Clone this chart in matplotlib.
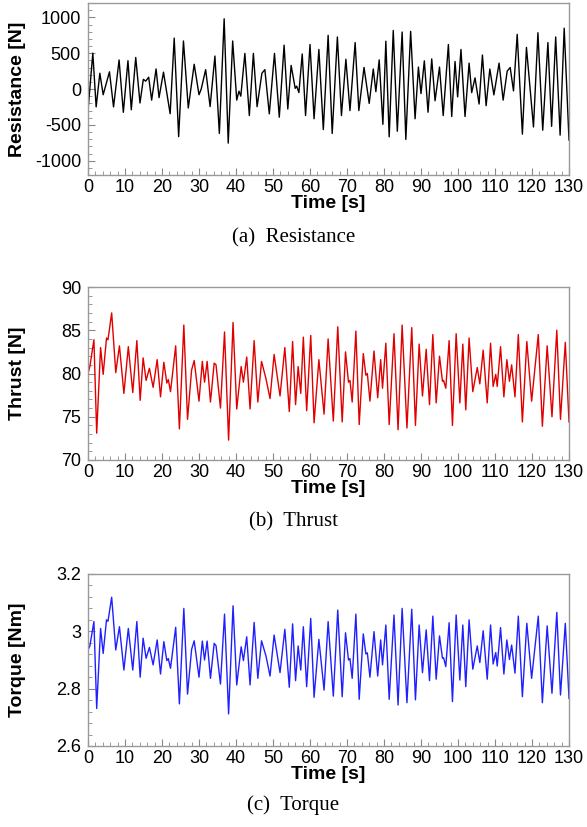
import matplotlib
matplotlib.use("Agg")
import matplotlib.pyplot as plt
from matplotlib.ticker import MultipleLocator, FuncFormatter

plt.rcParams['font.family'] = ['Liberation Sans', 'DejaVu Sans']
plt.rcParams['axes.unicode_minus'] = False

# Resistance [N] - peaks/troughs
time_res = [0.0, 1.3, 2.2, 3.2, 4.1, 5.8, 6.9, 8.4, 9.55, 10.8, 11.7, 12.9, 14.05, 14.95, 15.6,
            16.4, 17.2, 18.4, 19.2, 20.4, 22.2, 23.3, 24.5, 25.8, 27.1, 28.7, 30.0, 30.6, 31.8,
            33.0, 34.3, 35.5, 36.8, 37.9, 39.1, 40.2, 40.8, 41.3, 42.4, 43.6, 44.7, 45.7, 47.0,
            47.8, 49.0, 50.4, 51.7, 53.0, 54.0, 54.9, 56.0, 56.4, 57.0, 57.9, 58.8, 60.0, 61.1,
            62.4, 63.6, 64.9, 66.0, 67.4, 68.5, 69.7, 70.8, 72.2, 73.2, 74.6, 76.0, 77.1, 77.8,
            78.7, 79.7, 80.5, 81.4, 82.5, 83.6, 84.9, 85.9, 87.2, 88.4, 89.3, 90.0, 90.9, 91.9,
            92.9, 93.8, 95.0, 96.0, 97.4, 98.3, 99.2, 99.9, 100.8, 101.9, 103.0, 103.7, 104.6,
            105.7, 106.6, 107.6, 108.6, 109.7, 111.1, 112.2, 113.3, 114.1, 115.0, 116.0, 117.4,
            118.5, 120.4, 121.6, 122.9, 124.3, 125.3, 126.4, 127.6, 128.7, 130.0]
resistance = [-300, 500, -250, 220, -80, 240, -250, 405, -325, 395, -290, 440, -195, 135, 110,
              165, -155, 280, -120, 235, -345, 710, -665, 670, -265, 345, -80, 0, 270,
              -245, 460, -620, 980, -755, 670, -155, -30, -100, 497, -370, 497, -247, 220,
              270, -347, 497, -393, 612, -279, 329, 9, 40, -50, 489, -370, 621, -415,
              552, -566, 749, -621, 726, -370, 415, -301, 648, -301, 301, -201, 279, -37,
              406, -493, 667, -667, 817, -589, 795, -703, 804, -415, 306, -64, 393, -324,
              420, -164, 306, -370, 621, -384, 384, -110, 552, -384, 361, -50, 155,
              -210, 475, -233, 279, -82, 361, -155, 250, 300, -27, 763, -630,
              580, -530, 785, -575, 648, -521, 726, -644, 849, -712]

# Thrust [N] and Torque [Nm] share the same time stamps
time_tq = [0.0, 0.5, 1.6, 2.35, 3.4, 4.1, 5.0, 5.4, 6.4, 7.5, 8.5, 9.7, 10.9, 12.1, 13.2, 14.1,
           14.9, 15.7, 16.6, 17.6, 18.7, 19.6, 20.5, 21.3, 21.7, 22.3, 23.7, 24.7, 25.9, 26.9,
           28.0, 28.7, 30.0, 30.9, 31.5, 32.2, 33.1, 34.1, 34.6, 35.8, 36.9, 38.0, 39.2, 40.2,
           41.4, 42.0, 42.9, 43.8, 44.9, 45.9, 46.9, 48.1, 49.2, 50.3, 51.9, 53.2, 54.4, 55.3,
           56.1, 56.8, 57.5, 58.2, 59.1, 60.2, 61.1, 62.4, 63.8, 64.9, 66.3, 67.5, 68.7, 69.6,
           70.4, 70.8, 71.4, 72.4, 73.3, 74.4, 75.1, 75.5, 76.2, 77.3, 78.3, 79.1, 79.6, 80.5,
           81.4, 82.7, 83.8, 84.9, 86.2, 87.5, 88.5, 89.5, 90.4, 91.4, 92.3, 93.2, 94.1, 95.0,
           95.8, 96.1, 96.7, 97.6, 98.5, 99.5, 100.5, 101.3, 102.1, 103.0, 104.0, 105.2, 105.9,
           106.8, 107.9, 108.8, 109.5, 110.2, 110.6, 111.5, 112.4, 113.2, 113.9, 114.5, 115.4,
           116.3, 117.4, 118.6, 119.9, 121.7, 122.8, 124.1, 125.4, 126.7, 127.7, 129.0, 130.0]
thrust = [80.0, 80.8, 83.9, 73.1, 83.0, 79.9, 84.1, 83.9, 87.0, 80.1, 83.2, 77.7, 83.1, 77.8, 83.8, 76.9,
          81.8, 79.2, 80.6, 78.4, 81.6, 77.3, 81.3, 78.9, 79.3, 77.9, 83.2, 73.6, 85.6, 74.7,
          80.4, 81.5, 76.8, 81.4, 79.0, 81.4, 76.7, 81.2, 81.0, 76.0, 84.8, 72.3, 85.9, 75.9,
          80.8, 79.0, 81.9, 75.9, 83.8, 76.7, 81.4, 79.4, 77.1, 82.2, 77.4, 83.0, 75.6, 83.7,
          76.4, 80.8, 77.7, 84.2, 75.7, 84.4, 74.3, 81.6, 75.3, 84.0, 74.5, 85.4, 74.4, 82.5,
          79.0, 79.2, 76.7, 84.9, 74.1, 82.3, 79.8, 80.0, 76.8, 82.6, 77.2, 81.6, 78.3, 83.5,
          74.1, 84.6, 73.5, 85.6, 73.7, 85.3, 74.0, 83.4, 77.4, 82.8, 76.4, 84.5, 76.6, 82.0,
          79.1, 79.2, 78.3, 83.8, 74.0, 84.6, 76.6, 83.4, 75.8, 84.1, 77.9, 80.7, 78.8,
          82.7, 76.6, 83.5, 78.5, 79.9, 78.5, 83.1, 77.3, 81.6, 79.1, 81.0, 77.3,
          84.5, 74.4, 83.7, 76.8, 84.5, 73.9, 83.2, 75.0, 85.0, 74.7, 83.6, 74.4]
torque = [2.935, 2.949, 3.034, 2.731, 3.010, 2.923, 3.040, 3.035, 3.119, 2.935, 3.016, 2.865, 3.010, 2.865, 3.034, 2.840,
          2.976, 2.906, 2.944, 2.883, 2.970, 2.851, 2.964, 2.898, 2.905, 2.871, 3.014, 2.747, 3.080, 2.781,
          2.937, 2.967, 2.840, 2.966, 2.900, 2.966, 2.836, 2.958, 2.950, 2.816, 3.060, 2.712, 3.089, 2.813,
          2.946, 2.898, 2.981, 2.813, 3.031, 2.836, 2.967, 2.914, 2.844, 2.987, 2.856, 3.007, 2.805, 3.026,
          2.828, 2.949, 2.865, 3.016, 2.807, 3.045, 2.770, 2.972, 2.795, 3.034, 2.774, 3.074, 2.772, 2.995,
          2.900, 2.905, 2.836, 3.060, 2.763, 2.991, 2.921, 2.925, 2.840, 2.999, 2.844, 2.970, 2.883, 3.022,
          2.763, 3.057, 2.743, 3.080, 2.751, 3.077, 2.761, 3.022, 2.856, 3.005, 2.828, 3.053, 2.833, 2.984,
          2.906, 2.908, 2.877, 3.030, 2.755, 3.057, 2.830, 3.022, 2.807, 3.040, 2.868, 2.949, 2.891,
          3.002, 2.833, 3.022, 2.886, 2.926, 2.879, 3.013, 2.851, 2.970, 2.902, 2.952, 2.854,
          3.053, 2.772, 3.028, 2.836, 3.053, 2.751, 3.019, 2.784, 3.066, 2.778, 3.028, 2.766]

W, H = 587, 827
fig = plt.figure(figsize=(W / 100, H / 100), dpi=100)


def make_axes(top_px, bottom_px):
    left, right = 88, 569
    return fig.add_axes([left / W, 1 - bottom_px / H, (right - left) / W, (bottom_px - top_px) / H])


panels = [
    (make_axes(3, 175), time_res, resistance, 'black', 'Resistance [N]', (-1200, 1200), 500, 100, '(a)  Resistance', 238),
    (make_axes(287, 460), time_tq, thrust, '#e00000', 'Thrust [N]', (70, 90), 5, 1, '(b)  Thrust', 522),
    (make_axes(574, 746), time_tq, torque, '#2020ff', 'Torque [Nm]', (2.6, 3.2), 0.2, 0.04, '(c)  Torque', 805),
]

for ax, t, y, col, ylab, ylim, major, minor, caption, cap_y in panels:
    ax.plot(t, y, color=col, lw=1.0, solid_joinstyle='round')
    ax.set_xlim(0, 130)
    ax.set_ylim(*ylim)
    ax.xaxis.set_major_locator(MultipleLocator(10))
    ax.xaxis.set_minor_locator(MultipleLocator(2))
    ax.yaxis.set_major_locator(MultipleLocator(major))
    ax.yaxis.set_minor_locator(MultipleLocator(minor))
    ax.yaxis.set_major_formatter(FuncFormatter(lambda v, p: '%g' % round(v, 6)))
    ax.tick_params(which='both', direction='in', top=False, right=False, labelsize=13, colors='#888888',
                   labelcolor='black')
    ax.tick_params(axis='x', pad=3)
    ax.tick_params(axis='y', pad=5)
    ax.tick_params(which='major', length=5)
    ax.tick_params(which='minor', length=3)
    for s in ax.spines.values():
        s.set_color('#999999')
        s.set_linewidth(1.0)
    ax.set_xlabel('Time [s]', fontsize=14, fontweight='bold', labelpad=-1)
    ax.set_ylabel(ylab, fontsize=14, fontweight='bold')
    # right edge of the rotated label sits about 26 px from the figure edge
    ax.yaxis.set_label_coords((26 - 88) / 481, 0.5)
    fig.text(0.5, 1 - cap_y / H, caption, ha='center', va='center', fontsize=15,
             family='Liberation Serif')

fig.savefig('out.png', dpi=100)
